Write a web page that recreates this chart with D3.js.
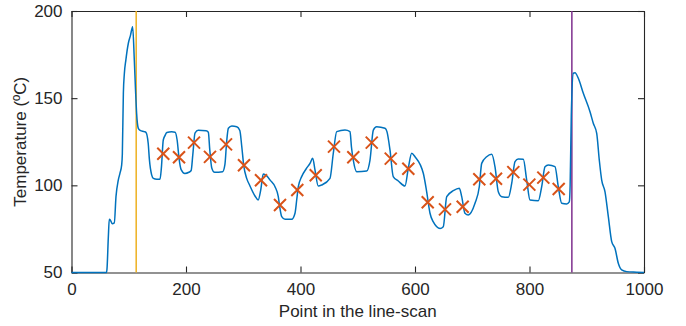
<!DOCTYPE html>
<html>
<head>
<meta charset="utf-8">
<script src="https://cdn.jsdelivr.net/npm/d3@7"></script>
<style>
  body { margin: 0; background: #fff; }
  svg text { font-family: "Liberation Sans", Arial, sans-serif; fill: #262626; }
</style>
</head>
<body>
<script>
// line-scan profile
var scanX = [0, 61, 62, 64.3, 66, 68, 71, 74.8, 77.7, 81.7, 84.7, 87.6, 88.8, 90.6, 92.3, 95, 99.3, 103, 106.8,
  109.7, 111.8, 113.8, 116.7, 120, 127, 130, 134, 136, 140, 143, 149, 154.6, 157, 160.3, 163.3, 166.5, 175, 181,
  184.5, 188, 191.5, 198, 205, 209, 212, 215.7, 221.5, 235, 239, 241.5, 245, 250, 264, 268, 271, 274, 280, 288.6,
  294, 297.5, 301, 306, 311, 320.5, 326, 330.5, 335, 341, 347, 355.5, 361.2, 364, 367.2, 373, 384.6, 390.4, 393.5,
  396.2, 402, 410, 416.6, 421.3, 425.3, 431, 437, 451.5, 457.3, 463.3, 477.7, 486.5, 489, 492.2, 498.2, 515.6,
  521.4, 527.2, 533, 547.6, 551, 556.3, 562, 570.8, 582.5, 588.3, 594.2, 600, 614.5, 620.4, 626.2, 632, 643.7,
  649.4, 655.4, 667, 677.4, 681.6, 687.3, 693.1, 704.8, 712.3, 716.5, 725.2, 734, 739.7, 745.5, 751.4, 763, 768.9,
  774.7, 780.4, 789.2, 795.1, 800.9, 815.4, 821.3, 827.1, 832.9, 844.5, 850.3, 856.2, 864.9, 869.5, 871, 873,
  876.5, 879.5, 885.3, 894, 905.7, 911.4, 917.4, 921.9, 926.1, 931.9, 937.7, 943.6, 949.3, 955.1, 961, 969.8,
  987, 1000];
var scanT = [50, 50, 52, 70, 80.5, 80, 78, 78.5, 93.5, 103, 107, 111.6, 118, 153, 164, 172, 181.5, 186, 191,
  172, 155, 141, 132.7, 131.5, 130.8, 130.4, 124, 115, 106, 104, 103.5, 103.5, 110, 126, 128.5, 130.3, 130.7, 130.5,
  126, 115, 109, 106.8, 107.5, 108.5, 118, 130, 131.6, 131.3, 130.5, 120.5, 110, 107.5, 107.8, 112, 125, 132.7, 134, 133.6,
  131.5, 122, 111, 104, 100.2, 93.9, 91.6, 97.3, 106.5, 105.4, 103, 99.2, 93.5, 87, 82, 80.5, 80.5, 84, 92,
  99.2, 105, 109.5, 112.6, 115.5, 108.8, 99.6, 100.2, 104, 118.4, 130.8, 131.7, 130.8, 122, 114.5, 107.8, 108.2,
  114.5, 131.7, 133.6, 132.7, 130.8, 120.3, 105, 102.5, 99.6, 109.8, 118.4, 116.4, 106.9, 96.3, 84, 79, 75.3,
  76.3, 93.5, 96.9, 98.3, 93.5, 84, 83, 89.7, 99.2, 112.6, 116.4, 117.8, 110.7, 96.3, 93.5, 93.1, 101.1,
  113.6, 115.1, 114.9, 103, 91.6, 91.2, 99.2, 110.7, 111.7, 110.7, 99.2, 89.7, 89.3, 90.5, 100, 140,
  164.3, 164.6, 161.4, 152.8, 142.2, 135.6, 129.8, 114.5, 103, 96.3, 82, 67.7, 63.9, 55.3, 51.5, 50.5,
  50.2, 50];

// marked points (crosses)
var markX = [160.3, 187.8, 214, 241.9, 269.9, 301.3, 331, 364.2, 394.4, 426.6, 458.5, 492.2, 524.4, 557.6,
  588.3, 622.2, 652.4, 683.3, 712.3, 741.5, 771.7, 799.7, 824.1, 851];
var markT = [118.1, 116.1, 124.5, 116.3, 123.5, 111.5, 102.9, 88.7, 97.3, 105.8, 122.2, 116.1, 124.5, 115.3,
  109.5, 90.3, 86.2, 87.7, 103.5, 103.8, 107.6, 100.4, 104.4, 97.9];

// vertical limit lines
var limitX = [113, 874];
var limitColors = ["#EDB120", "#7E2F8E"];

var xTicks = [0, 200, 400, 600, 800, 1000];
var yTicks = [50, 100, 150, 200];

var width = 686, height = 326;
var margin = { left: 71.5, right: 42, top: 11, bottom: 53.5 };

var svg = d3.select("body").append("svg")
  .attr("width", width)
  .attr("height", height);

var x = d3.scaleLinear().domain([0, 1000]).range([margin.left, width - margin.right]);
var y = d3.scaleLinear().domain([50, 200]).range([height - margin.bottom, margin.top]);

var scan = scanX.map(function (d, i) { return { x: d, t: scanT[i] }; });
var marks = markX.map(function (d, i) { return { x: d, t: markT[i] }; });

// axes, ticks pointing inwards on all four sides
var tickLen = 6;
svg.append("g")
  .attr("transform", "translate(0," + y(50) + ")")
  .call(d3.axisBottom(x).tickValues(xTicks).tickFormat(d3.format("d"))
    .tickSizeInner(-tickLen).tickSizeOuter(0).tickPadding(10))
  .attr("class", "ax");
svg.append("g")
  .attr("transform", "translate(0," + y(200) + ")")
  .call(d3.axisTop(x).tickValues(xTicks).tickSizeInner(-tickLen).tickSizeOuter(0).tickFormat(""))
  .attr("class", "ax");
svg.append("g")
  .attr("transform", "translate(" + x(0) + ",0)")
  .call(d3.axisLeft(y).tickValues(yTicks).tickSizeInner(-tickLen).tickSizeOuter(0).tickPadding(9))
  .attr("class", "ax");
svg.append("g")
  .attr("transform", "translate(" + x(1000) + ",0)")
  .call(d3.axisRight(y).tickValues(yTicks).tickSizeInner(-tickLen).tickSizeOuter(0).tickFormat(""))
  .attr("class", "ax");

svg.selectAll(".ax path").attr("stroke", "#262626").attr("stroke-width", 1.1);
svg.selectAll(".ax line").attr("stroke", "#262626").attr("stroke-width", 1.1);
svg.selectAll(".ax text")
  .attr("font-size", 17)
  .attr("fill", "#262626")
  .style("font-family", "Liberation Sans, Arial, sans-serif");

// vertical lines
svg.selectAll(".limit")
  .data(limitX)
  .enter().append("line")
  .attr("class", "limit")
  .attr("x1", function (d) { return x(d); })
  .attr("x2", function (d) { return x(d); })
  .attr("y1", y(200))
  .attr("y2", y(50))
  .attr("stroke", function (d, i) { return limitColors[i]; })
  .attr("stroke-width", 1.5);

// profile
var line = d3.line()
  .x(function (d) { return x(d.x); })
  .y(function (d) { return y(d.t); })
  .curve(d3.curveMonotoneX);

svg.append("path")
  .datum(scan)
  .attr("d", line)
  .attr("fill", "none")
  .attr("stroke", "#0072BD")
  .attr("stroke-width", 1.5);

// crosses
var s = 6;
svg.selectAll(".mark")
  .data(marks)
  .enter().append("path")
  .attr("class", "mark")
  .attr("d", function (d) {
    var cx = x(d.x), cy = y(d.t);
    return "M" + (cx - s) + "," + (cy - s) + "L" + (cx + s) + "," + (cy + s) +
      "M" + (cx - s) + "," + (cy + s) + "L" + (cx + s) + "," + (cy - s);
  })
  .attr("fill", "none")
  .attr("stroke", "#D95319")
  .attr("stroke-width", 2);

// labels
svg.append("text")
  .attr("x", (x(0) + x(1000)) / 2)
  .attr("y", 317)
  .attr("text-anchor", "middle")
  .attr("font-size", 17)
  .text("Point in the line-scan");

svg.append("text")
  .attr("transform", "translate(26," + (y(125)) + ") rotate(-90)")
  .attr("text-anchor", "middle")
  .attr("font-size", 17)
  .text("Temperature (ºC)");
</script>
</body>
</html>
